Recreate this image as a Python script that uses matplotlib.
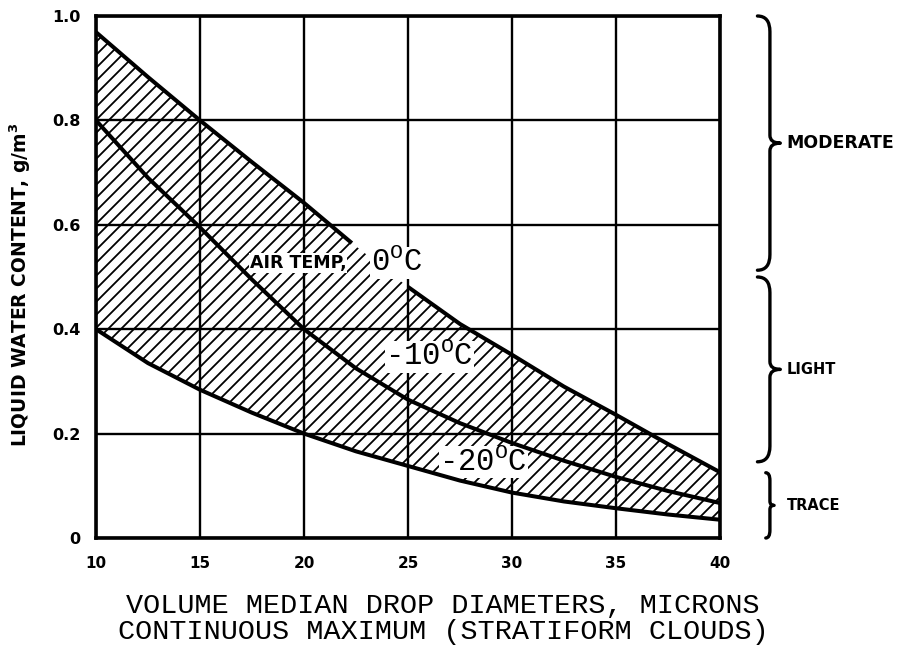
import numpy as np  # numerical helpers
import matplotlib
matplotlib.use('Agg')
import matplotlib.pyplot as plt
from matplotlib.collections import LineCollection
from matplotlib.path import Path
from matplotlib.patches import PathPatch

# Data (drop diameter in microns, LWC in g/m3)
upper_x1 = [10, 12.5, 15, 17.5, 20, 22.3]          # 0 C boundary, left part
upper_y1 = [0.969, 0.883, 0.80, 0.72, 0.642, 0.565]
upper_x2 = [25, 27.5, 30, 32.5, 35, 37.5, 40]      # 0 C boundary, right part
upper_y2 = [0.481, 0.41, 0.351, 0.29, 0.236, 0.18, 0.126]

mid_x = [10, 12.5, 15, 17.5, 20, 22.5, 25, 27.5, 30, 32.5, 35, 37.5, 40]   # -10 C
mid_y = [0.80, 0.69, 0.595, 0.495, 0.40, 0.325, 0.265, 0.22, 0.182, 0.148, 0.117, 0.09, 0.067]

low_x = [10, 12.5, 15, 17.5, 20, 22.5, 25, 27.5, 30, 32.5, 35, 37.5, 40]   # -20 C
low_y = [0.40, 0.335, 0.284, 0.24, 0.20, 0.166, 0.138, 0.11, 0.087, 0.07, 0.057, 0.045, 0.035]

# Axis ticks
x_ticks = [10, 15, 20, 25, 30, 35, 40]
y_ticks = [0, 0.2, 0.4, 0.6, 0.8, 1.0]
y_tick_labels = ['0', '0.2', '0.4', '0.6', '0.8', '1.0']

# Icing intensity zones shown with braces on the right
zone_names = ['MODERATE', 'LIGHT', 'TRACE']
zone_top = [1.0, 0.50, 0.125]
zone_bottom = [0.513, 0.146, 0.0]

mono = ['Liberation Mono', 'DejaVu Sans Mono']
sans = ['DejaVu Sans']

# Figure and axes at a fixed place
fig = plt.figure(figsize=(9.14, 6.52), dpi=100)
ax = fig.add_axes([96 / 914, 114 / 652, 624 / 914, 522 / 652])
ax.set_xlim(10, 40)
ax.set_ylim(0, 1.0)

# Grid and frame
ax.set_xticks(x_ticks)
ax.set_yticks(y_ticks)
ax.set_yticklabels(y_tick_labels)
ax.grid(True, color='black', linewidth=1.7)
ax.set_axisbelow(True)
for s in ax.spines.values():
    s.set_linewidth(2.6)
ax.tick_params(axis='both', length=0)
ax.tick_params(axis='y', pad=11)
ax.tick_params(axis='x', pad=13)
for lab in ax.get_xticklabels():
    lab.set_fontweight('bold')
    lab.set_fontsize(11)
    lab.set_family(sans)
for lab in ax.get_yticklabels():
    lab.set_fontweight('bold')
    lab.set_fontsize(11.5)
    lab.set_family(sans)

# Band between 0 C and -20 C curves (used as clip for the hatching)
band_x = np.concatenate([upper_x1, upper_x2, low_x[::-1]])
band_y = np.concatenate([upper_y1, upper_y2, low_y[::-1]])
band = ax.fill(band_x, band_y, facecolor='none', edgecolor='none')[0]

# Diagonal hatching drawn by hand, 13 px apart at 45 degrees
W, H, step = 624.0, 522.0, 13.0
segs = [[(c / W, 0), ((c + H) / W, 1)] for c in np.arange(-H, W, step)]
hatch = LineCollection(segs, colors='black', linewidths=1.3, transform=ax.transAxes, zorder=2)
hatch.set_clip_path(band)
ax.add_collection(hatch)

# Temperature curves
ax.plot(upper_x1, upper_y1, color='black', lw=2.9, solid_capstyle='butt', zorder=3)
ax.plot(upper_x2, upper_y2, color='black', lw=2.9, solid_capstyle='butt', zorder=3)
ax.plot(mid_x, mid_y, color='black', lw=2.9, zorder=3)
ax.plot(low_x, low_y, color='black', lw=2.9, zorder=3)

# Curve labels (white box over the hatching, curves stay on top)
box = dict(facecolor='white', edgecolor='none', pad=0.5)
ax.text(17.4, 0.527, 'AIR TEMP,', family=sans, fontweight='bold', fontsize=12.5,
        va='center', ha='left', bbox=box, zorder=2.5)
ax.text(23.2, 0.527, r'0$\mathregular{^O}$C', family=mono, fontsize=22,
        va='center', ha='left', bbox=box, zorder=2.5)
ax.text(23.9, 0.347, r'-10$\mathregular{^O}$C', family=mono, fontsize=22,
        va='center', ha='left', bbox=box, zorder=2.5)
ax.text(26.5, 0.145, r'-20$\mathregular{^O}$C', family=mono, fontsize=22,
        va='center', ha='left', bbox=box, zorder=2.5)

# Braces for the intensity zones
def brace(y_top, y_bot, x_left, x_spine, x_tip, r, r2):
    mid = (y_top + y_bot) / 2
    verts = [(x_left, y_top), (x_spine, y_top), (x_spine, y_top - r),
             (x_spine, mid + r2), (x_spine, mid), (x_tip, mid),
             (x_spine, mid), (x_spine, mid - r2),
             (x_spine, y_bot + r), (x_spine, y_bot), (x_left, y_bot)]
    codes = [Path.MOVETO, Path.CURVE3, Path.CURVE3,
             Path.LINETO, Path.CURVE3, Path.CURVE3,
             Path.CURVE3, Path.CURVE3,
             Path.LINETO, Path.CURVE3, Path.CURVE3]
    p = PathPatch(Path(verts, codes), facecolor='none', edgecolor='black',
                  lw=2.4, clip_on=False, capstyle='round', joinstyle='round')
    ax.add_patch(p)
    return mid

for i, name in enumerate(zone_names):
    if name == 'TRACE':
        m = brace(zone_top[i], zone_bottom[i], 42.2, 42.4, 42.6, 0.015, 0.008)
    else:
        m = brace(zone_top[i], zone_bottom[i], 41.8, 42.4, 42.9, 0.03, 0.015)
    fs = 12.5 if name == 'MODERATE' else 10.5
    ax.text(43.2, m, name, family=sans, fontweight='bold', fontsize=fs,
            va='center', ha='left', clip_on=False)

# Axis titles
fig.text(20 / 914, 1 - 285 / 652, r'LIQUID WATER CONTENT, g/m$\mathregular{^3}$',
         rotation=90, ha='center', va='center', family=sans, fontweight='bold', fontsize=13.5)
fig.text(443 / 914, 1 - 606 / 652, 'VOLUME MEDIAN DROP DIAMETERS, MICRONS',
         ha='center', va='center', family=mono, fontsize=20.5)
fig.text(443 / 914, 1 - 632 / 652, 'CONTINUOUS MAXIMUM (STRATIFORM CLOUDS)',
         ha='center', va='center', family=mono, fontsize=20.5)

plt.savefig('out.png', dpi=100)
